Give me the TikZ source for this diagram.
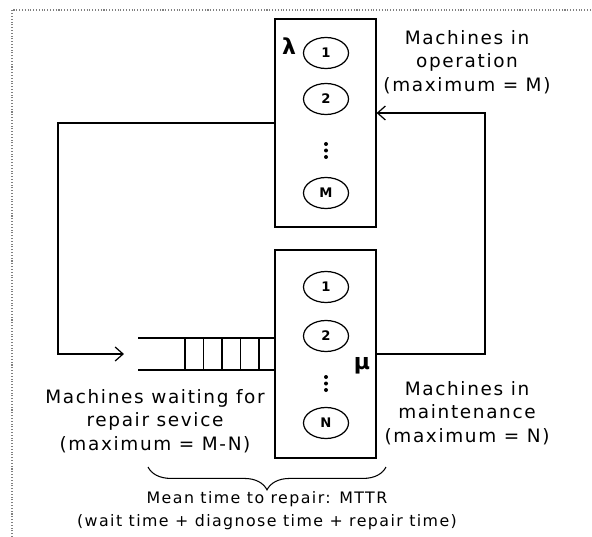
\documentclass[tikz,border=0pt]{standalone}
\usepackage{fontspec}
\newfontfamily\lblfont{DejaVu Sans}[LetterSpace=9]
\newfontfamily\numfont{DejaVu Sans Bold}
\usetikzlibrary{arrows.meta,positioning,shapes.geometric,decorations.pathreplacing}

\tikzset{
  stationbox/.style={draw,line width=0.7pt,inner sep=0pt,minimum width=2.02cm,minimum height=4.16cm},
  machine/.style={inner sep=0pt,font=\numfont\fontsize{7.5}{8}\selectfont},
  rim/.style={line width=0.7pt},
  caption/.style={align=center,inner sep=0pt,font=\lblfont\fontsize{10.5}{13.4}\selectfont},
  smallcaption/.style={align=center,inner sep=0pt,font=\lblfont\fontsize{9}{13}\selectfont},
  rate/.style={inner sep=0pt,font=\numfont\fontsize{12.5}{13}\selectfont},
  flow/.style={line width=0.7pt,-{Straight Barb[length=4.5pt,width=8pt]}}
}

\begin{document}
\begin{tikzpicture}[x=0.02cm,y=-0.02cm]
\useasboundingbox (0,0) rectangle (592,537);
\draw[densely dotted,gray,line width=0.6pt] (12,537)--(12,10)--(592,10);

% stations
\node[stationbox] (opbox) at (325.5,123) {};
\node[stationbox] (mtbox) at (325.5,354) {};

% machines in operation
\node[machine] (op1) at (326,53) {1};
\node[machine] (op2) at (326,99) {2};
\node[machine] (opM) at (326,193) {M};
\foreach \y in {144,150.5,157} \fill (326,\y) circle (2);

% machines in maintenance
\node[machine] (mt1) at (326,287) {1};
\node[machine] (mt2) at (326,336) {2};
\node[machine] (mtN) at (326,423) {N};
\foreach \y in {377,383.5,390} \fill (326,\y) circle (2);

\foreach \m in {op1,op2,opM,mt1,mt2,mtN}
  \draw[rim] (\m.center) ellipse [x radius=0.45cm,y radius=0.31cm];

\node[rate] (lambda) at (289,46) {λ};
\node[rate] (mu) at (362,366) {μ};

% waiting queue
\coordinate (qin) at (138,354);
\draw[line width=0.7pt] (138,338)--(mtbox.west |- 0,338) (138,370)--(mtbox.west |- 0,370);
\foreach \x in {185,203.5,222,240.5,259}
  \draw[line width=0.7pt] (\x,338)--(\x,370);

% connectors
\draw[flow] (opbox.west) -| (58,354) -- ([xshift=-8]qin);
\draw[flow] (mtbox.east) -| (485,113) -- (opbox.east |- 0,113);

% labels
\node[caption] (oplabel) at (467,62) {Machines in\\operation\\(maximum = M)};
\node[caption] (waitlabel) at (155,421) {Machines waiting for\\repair sevice\\(maximum = M-N)};
\node[caption] (mtlabel) at (467,413) {Machines in\\maintenance\\(maximum = N)};

\draw[line width=0.6pt,decorate,decoration={brace,mirror,amplitude=13pt}] (148,467)--(386,467);
\node[smallcaption] (mttr) at (267,511) {Mean time to repair: MTTR\\(wait time + diagnose time + repair time)};
\end{tikzpicture}
\end{document}
